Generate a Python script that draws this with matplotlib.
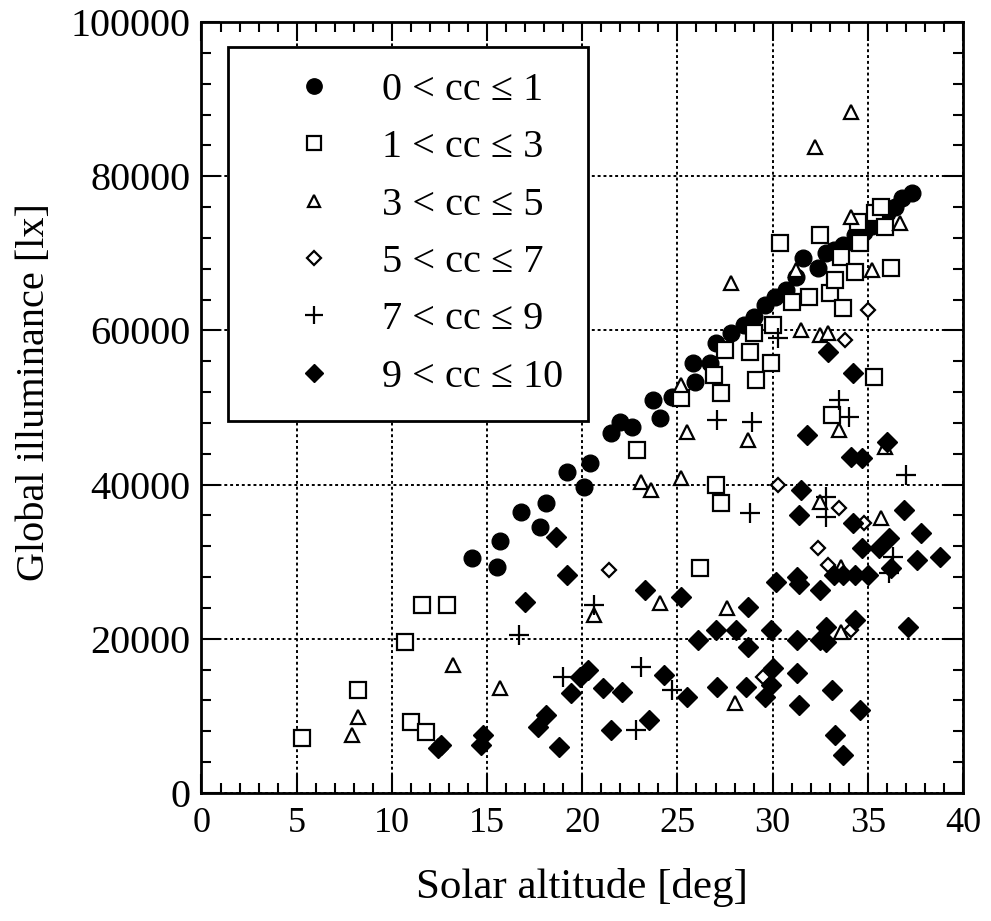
import numpy as np
import matplotlib
matplotlib.use("Agg")
import matplotlib.pyplot as plt
from matplotlib.ticker import MultipleLocator

plt.rcParams['font.family'] = ['Liberation Serif', 'DejaVu Serif']

# solar altitude [deg], global illuminance [klx]
c1_x = [14.2, 15.5, 15.7, 16.8, 17.8, 18.1, 19.2, 20.1, 20.4, 21.5, 22.0, 22.6, 23.7, 24.1,
        24.7, 25.9, 25.8, 26.7, 27.0, 27.8, 28.5, 29.0, 29.6, 30.1, 30.7, 31.2, 31.6, 32.4,
        32.8, 33.2, 33.7, 34.3, 34.8, 35.2, 35.7, 36.0, 36.4, 36.8, 37.3]
c1_y = [30.5, 29.3, 32.7, 36.4, 34.5, 37.6, 41.6, 39.7, 42.8, 46.7, 48.1, 47.5, 51.0, 48.6,
        51.4, 53.3, 55.8, 55.8, 58.4, 59.7, 60.7, 61.7, 63.3, 64.3, 65.2, 66.9, 69.4, 68.1,
        70.0, 70.5, 71.1, 72.4, 72.8, 73.5, 74.3, 75.2, 76.0, 77.2, 77.8]

c3_x = [5.3, 8.2, 10.7, 11.6, 12.9, 11.0, 11.8, 22.9, 26.2, 27.0, 27.3, 25.2, 26.9, 27.3,
        27.5, 28.8, 29.1, 29.9, 30.4, 31.0, 31.9, 32.5, 33.0, 33.3, 33.7, 33.6, 34.3, 34.5,
        34.6, 35.4, 35.7, 35.9, 36.2, 35.3, 33.1, 30.0, 29.0]
c3_y = [7.1, 13.4, 19.6, 24.4, 24.4, 9.2, 7.9, 44.5, 29.2, 39.9, 37.6, 51.2, 54.2, 51.9,
        57.5, 57.2, 53.6, 55.8, 71.3, 63.7, 64.3, 72.4, 64.9, 66.5, 62.9, 69.5, 67.6, 74.1,
        71.3, 75.2, 76.0, 73.4, 68.1, 54.0, 49.0, 60.7, 59.7]

c5_x = [7.9, 8.2, 13.2, 15.7, 20.6, 23.1, 23.6, 24.1, 25.2, 25.2, 25.5, 27.6, 28.0, 28.7,
        27.8, 31.2, 31.5, 32.5, 32.9, 32.2, 34.1, 34.1, 36.7, 35.2, 33.5, 35.9, 32.5, 35.7,
        33.6, 33.6]
c5_y = [7.5, 9.9, 16.6, 13.6, 23.1, 40.3, 39.3, 24.6, 40.9, 52.9, 46.8, 24.0, 11.7, 45.8,
        66.1, 67.8, 60.1, 59.4, 59.7, 83.8, 88.3, 74.7, 73.9, 67.8, 47.1, 44.9, 37.7, 35.7,
        29.3, 20.9]

c7_x = [21.4, 29.5, 30.3, 35.0, 33.8, 33.5, 34.8, 32.4, 32.9, 34.1]
c7_y = [28.9, 15.0, 39.9, 62.6, 58.8, 37.0, 35.0, 31.8, 29.6, 21.1]

c9_x = [16.7, 19.0, 20.6, 22.8, 23.1, 24.7, 27.1, 28.9, 28.8, 33.5, 34.0, 37.0, 32.8, 32.8,
        36.3, 36.1, 30.3]
c9_y = [20.5, 15.0, 24.4, 8.2, 16.3, 13.4, 48.4, 48.1, 36.3, 51.0, 48.8, 41.2, 38.4, 35.8,
        30.6, 28.5, 59.0]

c10_x = [12.4, 12.6, 14.7, 14.8, 17.7, 18.1, 18.8, 18.6, 19.2, 17.0, 19.4, 19.9, 20.3, 21.1,
         22.1, 21.5, 23.5, 23.3, 25.2, 24.3, 25.5, 26.1, 27.0, 28.1, 28.7, 28.7, 29.9, 27.1,
         28.6, 29.6, 29.9, 30.0, 30.2, 31.4, 32.5, 31.3, 33.2, 33.7, 34.3, 35.0, 36.2, 34.7,
         35.6, 36.1, 34.2, 31.4, 31.5, 36.9, 37.8, 37.6, 38.8, 34.1, 34.7, 36.0, 31.8, 34.2,
         32.9, 32.8, 34.3, 31.3, 32.5, 32.8, 37.1, 31.3, 33.1, 31.4, 34.6, 33.3, 33.7]
c10_y = [5.8, 6.2, 6.2, 7.5, 8.6, 10.1, 6.0, 33.2, 28.3, 24.8, 13.0, 15.0, 16.0, 13.6,
         13.1, 8.2, 9.5, 26.3, 25.4, 15.3, 12.5, 19.8, 21.1, 21.1, 24.1, 18.9, 21.1, 13.7,
         13.7, 12.5, 14.0, 16.2, 27.4, 27.1, 26.3, 28.0, 28.3, 28.3, 28.3, 28.3, 29.2, 31.8,
         31.8, 33.1, 35.0, 36.1, 39.3, 36.7, 33.7, 30.2, 30.6, 43.6, 43.4, 45.5, 46.4, 54.5,
         57.2, 21.5, 22.4, 19.8, 19.8, 19.6, 21.5, 15.6, 13.4, 11.4, 10.8, 7.5, 4.9]

labels = ['0 < cc ≤ 1', '1 < cc ≤ 3', '3 < cc ≤ 5', '5 < cc ≤ 7', '7 < cc ≤ 9', '9 < cc ≤ 10']

fig = plt.figure(figsize=(9.91, 9.21), dpi=100)
ax = fig.add_axes([0.2033, 0.139, 0.7685, 0.837])

k = 1000.0
ax.plot(c1_x, np.array(c1_y) * k, 'o', ms=12, mfc='black', mec='black', label=labels[0])
ax.plot(c3_x, np.array(c3_y) * k, 's', ms=11, mfc='white', mec='black', mew=1.6, label=labels[1])
ax.plot(c5_x, np.array(c5_y) * k, '^', ms=10, mfc='white', mec='black', mew=1.6, label=labels[2])
ax.plot(c7_x, np.array(c7_y) * k, 'D', ms=7.5, mfc='white', mec='black', mew=1.6, label=labels[3])
ax.plot(c9_x, np.array(c9_y) * k, '+', ms=14, mec='black', mew=1.6, label=labels[4])
ax.plot(c10_x, np.array(c10_y) * k, 'D', ms=10, mfc='black', mec='black', label=labels[5])

ax.set_xlim(0, 40)
ax.set_ylim(0, 100000)
ax.xaxis.set_major_locator(MultipleLocator(5))
ax.xaxis.set_minor_locator(MultipleLocator(1))
ax.yaxis.set_major_locator(MultipleLocator(20000))
ax.yaxis.set_minor_locator(MultipleLocator(4000))
ax.tick_params(which='both', direction='in', top=True, right=True, width=1.5)
ax.tick_params(which='major', length=14)
ax.tick_params(which='minor', length=7)
ax.tick_params(axis='x', labelsize=26, pad=10)
ax.tick_params(axis='y', labelsize=29, pad=8)
for s in ax.spines.values():
    s.set_linewidth(2)

ax.grid(True, which='major', linestyle=(0, (1.5, 1.5)), color='black', linewidth=1.4)
ax.set_axisbelow(True)

ax.set_xlabel('Solar altitude [deg]', fontsize=31, labelpad=20)
ax.set_ylabel('Global illuminance [lx]', fontsize=29)
ax.yaxis.set_label_coords(-0.195, 0.52)

leg = ax.legend(loc='upper left', bbox_to_anchor=(0.035, 0.968), fontsize=29,
                frameon=True, fancybox=False, framealpha=1, edgecolor='black',
                borderpad=0.62, handlelength=3.0, handletextpad=0.2, labelspacing=0.5,
                borderaxespad=0, markerscale=0.92)
leg.get_frame().set_linewidth(2)

fig.savefig('out.png', dpi=100)
